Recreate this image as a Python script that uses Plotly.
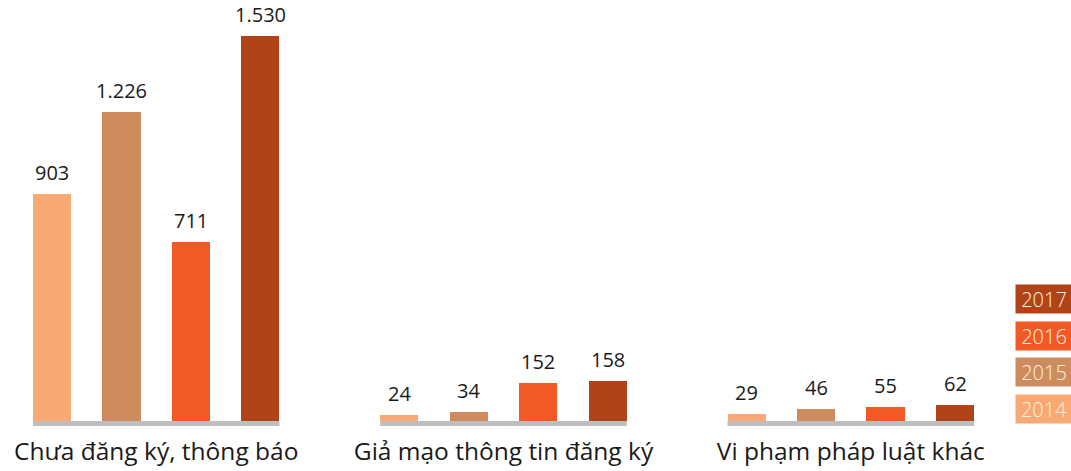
import plotly.graph_objects as go

categories = ["Chưa đăng ký, thông báo", "Giả mạo thông tin đăng ký", "Vi phạm pháp luật khác"]
years = ["2014", "2015", "2016", "2017"]
v2014 = [903, 24, 29]
v2015 = [1226, 34, 46]
v2016 = [711, 152, 55]
v2017 = [1530, 158, 62]
series = [v2014, v2015, v2016, v2017]
colors = ["#F9A973", "#CE8C5E", "#F15A25", "#B14318"]

FONT = "Open Sans"
GROUP_STEP = 5
BAR_W = 0.55
PLOT_TOP, PLOT_BOTTOM = 20, 426
H = 471


def fmt(v):
    return f"{v:,}".replace(",", ".")


def py(px):
    return (PLOT_BOTTOM - px) / (PLOT_BOTTOM - PLOT_TOP)


fig = go.Figure()
annotations = []
for i, (yr, vals, col) in enumerate(zip(years, series, colors)):
    xs = [g * GROUP_STEP + i for g in range(len(categories))]
    fig.add_trace(go.Bar(x=xs, y=vals, width=BAR_W, marker=dict(color=col, line=dict(width=0)),
                         name=yr, showlegend=False, hoverinfo="y"))
    for x, v in zip(xs, vals):
        annotations.append(dict(x=x, y=v, xref="x", yref="y", text=fmt(v), showarrow=False,
                                yanchor="bottom", yshift=6,
                                font=dict(family=FONT, size=20, color="#1a1a1a")))

# legend boxes
for k, (yr, col) in enumerate(zip(reversed(years), reversed(colors))):
    yc = 299 + k * 36.7
    annotations.append(dict(x=1015 / 1071, y=py(yc), xref="paper", yref="paper",
                            xanchor="left", yanchor="middle", text=yr, showarrow=False,
                            bgcolor=col, width=56, height=28, align="center",
                            font=dict(family=FONT, size=20, color="#FCEFE3", weight=300),
                            borderpad=0))

shapes = []
for g in range(len(categories)):
    shapes.append(dict(type="rect", xref="x", yref="y", x0=g * GROUP_STEP - BAR_W / 2,
                       x1=g * GROUP_STEP + 3 + BAR_W / 2, ysizemode="pixel", yanchor=0,
                       y0=0, y1=-5, fillcolor="#BEBEC0", line=dict(width=0), layer="below"))

fig.update_layout(
    width=1071, height=H,
    margin=dict(l=0, r=0, t=PLOT_TOP, b=H - PLOT_BOTTOM),
    paper_bgcolor="white", plot_bgcolor="white",
    annotations=annotations, shapes=shapes,
    bargap=0,
    xaxis=dict(range=[-0.7486, 14.67], tickvals=[g * GROUP_STEP + 1.5 for g in range(len(categories))],
               ticktext=categories, showgrid=False, zeroline=False, showline=False, ticks="",
               tickfont=dict(family=FONT, size=24.5, color="#1a1a1a"), ticklabelstandoff=8),
    yaxis=dict(range=[-20, 1592], visible=False, showgrid=False, zeroline=False),
)

fig.write_html("out.html")
